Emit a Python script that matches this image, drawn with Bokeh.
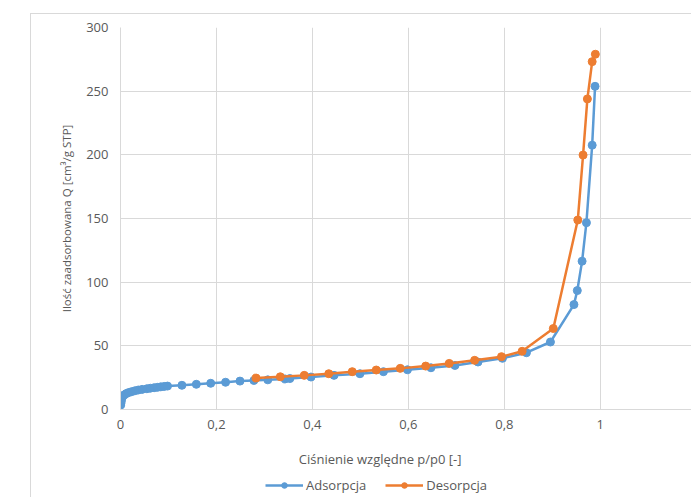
from bokeh.plotting import figure
from bokeh.models import FixedTicker, CustomJSTickFormatter, Legend, Label
from bokeh.layouts import column
from bokeh.embed import file_html
from bokeh.resources import INLINE

ads_x = [0.0005, 0.001, 0.0015, 0.002, 0.003, 0.005, 0.008, 0.012, 0.017, 0.023, 0.03, 0.037,
         0.045, 0.055, 0.062, 0.07, 0.077, 0.084, 0.091, 0.098, 0.128, 0.158, 0.188, 0.219,
         0.249, 0.278, 0.307, 0.343, 0.353, 0.397, 0.445, 0.499, 0.548, 0.598, 0.647, 0.697,
         0.745, 0.796, 0.846, 0.896, 0.945, 0.952, 0.962, 0.971, 0.983, 0.989]
ads_y = [3.5, 5, 6.5, 8, 9.5, 10.5, 11.5, 12.5, 13.3, 14, 14.7, 15.3,
         15.8, 16.3, 16.7, 17.1, 17.4, 17.8, 18.1, 18.4, 19, 19.8, 20.6, 21.4,
         22.3, 22.8, 23.3, 24, 24.3, 25.5, 26.8, 28.1, 29.7, 31.2, 32.8, 34.6,
         37.3, 40.2, 44.6, 53, 82.4, 93.4, 116.5, 146.7, 207.6, 253.8]

des_x = [0.9896, 0.983, 0.973, 0.964, 0.953, 0.902, 0.837, 0.794, 0.738, 0.685, 0.636,
         0.583, 0.533, 0.483, 0.434, 0.383, 0.333, 0.2825]
des_y = [279, 273.2, 243.9, 199.8, 148.8, 63.6, 45.7, 41.5, 38.6, 36.2, 34.1,
         32.3, 31, 29.7, 28.1, 26.8, 25.7, 24.7]

x_ticks = [0, 0.2, 0.4, 0.6, 0.8, 1.0, 1.2]
y_ticks = [0, 50, 100, 150, 200, 250, 300]

x_title = "Ciśnienie względne p/p0 [-]"
y_title = "Ilość zaadsorbowana Q [cm³/g STP]"

BLUE = "#5B9BD5"
ORANGE = "#ED7D31"
GRID = "#d9d9d9"
TXT = "#595959"
FONT = "Open Sans"

p = figure(frame_width=571, frame_height=381,
           x_range=(0, 571 / 479.0), y_range=(0, 300),
           output_backend="svg", toolbar_location=None,
           min_border_left=89, min_border_right=0, min_border_top=13, min_border_bottom=30,
           margin=(13, 0, 0, 30))
p.styles = {"border-left": "1px solid #d9d9d9", "border-top": "1px solid #d9d9d9"}
p.outline_line_color = None

r1l = p.line(ads_x, ads_y, line_color=BLUE, line_width=2.5)
r1s = p.scatter(ads_x, ads_y, size=8, fill_color=BLUE, line_color=BLUE)
r2l = p.line(des_x, des_y, line_color=ORANGE, line_width=2.5)
r2s = p.scatter(des_x, des_y, size=8, fill_color=ORANGE, line_color=ORANGE)

p.xaxis.ticker = FixedTicker(ticks=x_ticks)
p.yaxis.ticker = FixedTicker(ticks=y_ticks)
p.xaxis.formatter = CustomJSTickFormatter(
    code="return tick.toFixed(1).replace('.', ',').replace(',0', '');")

for ax in (p.xaxis[0], p.yaxis[0]):
    ax.axis_line_color = GRID
    ax.major_tick_line_color = None
    ax.minor_tick_line_color = None
    ax.major_tick_out = 0
    ax.major_label_text_font = FONT
    ax.major_label_text_font_size = "13px"
    ax.major_label_text_color = TXT
    ax.axis_label_text_font = FONT
    ax.axis_label_text_color = TXT
    ax.axis_label_text_font_style = "normal"

p.xaxis.major_label_standoff = 10
p.yaxis.major_label_standoff = 12
p.yaxis.axis_label = y_title
p.yaxis.axis_label_text_font_size = "11.5px"
p.yaxis.axis_label_standoff = 9

p.xgrid.grid_line_color = GRID
p.ygrid.grid_line_color = GRID
p.xgrid.ticker = FixedTicker(ticks=x_ticks)
p.ygrid.ticker = FixedTicker(ticks=y_ticks)

# strip below the chart: x-axis title and legend (frame aligned with the chart's frame)
QH = 59
q = figure(width=661, height=QH, x_range=(2000, 2571), y_range=(0, QH),
           x_axis_location=None, y_axis_location=None,
           output_backend="svg", toolbar_location=None,
           min_border_left=89, min_border_right=0, min_border_top=0, min_border_bottom=0,
           margin=(0, 0, 0, 30))
q.styles = {"border-left": "1px solid #d9d9d9"}
q.grid.visible = False
q.outline_line_color = None

q.add_layout(Label(x=2178, y=QH - 20, text=x_title, text_font=FONT,
                   text_font_size="13px", text_color=TXT, text_baseline="middle"))

# legend glyph sources (same data, outside the visible range of this strip)
l1 = q.line(ads_x, ads_y, line_color=BLUE, line_width=2.5)
s1 = q.scatter(ads_x, ads_y, size=8, fill_color=BLUE, line_color=BLUE)
l2 = q.line(des_x, des_y, line_color=ORANGE, line_width=2.5)
s2 = q.scatter(des_x, des_y, size=8, fill_color=ORANGE, line_color=ORANGE)

legend = Legend(items=[("Adsorpcja", [l1, s1]), ("Desorpcja", [l2, s2])],
                orientation="horizontal", location=(145, 3))
legend.border_line_color = None
legend.background_fill_alpha = 0
legend.label_text_font = FONT
legend.label_text_font_size = "13px"
legend.label_text_color = TXT
legend.glyph_width = 38
legend.glyph_height = 14
legend.spacing = 19
legend.label_standoff = 3
legend.padding = 2
legend.margin = 0
q.add_layout(legend, "center")

layout = column(p, q, spacing=0)
open("out.html", "w").write(file_html(layout, INLINE))
